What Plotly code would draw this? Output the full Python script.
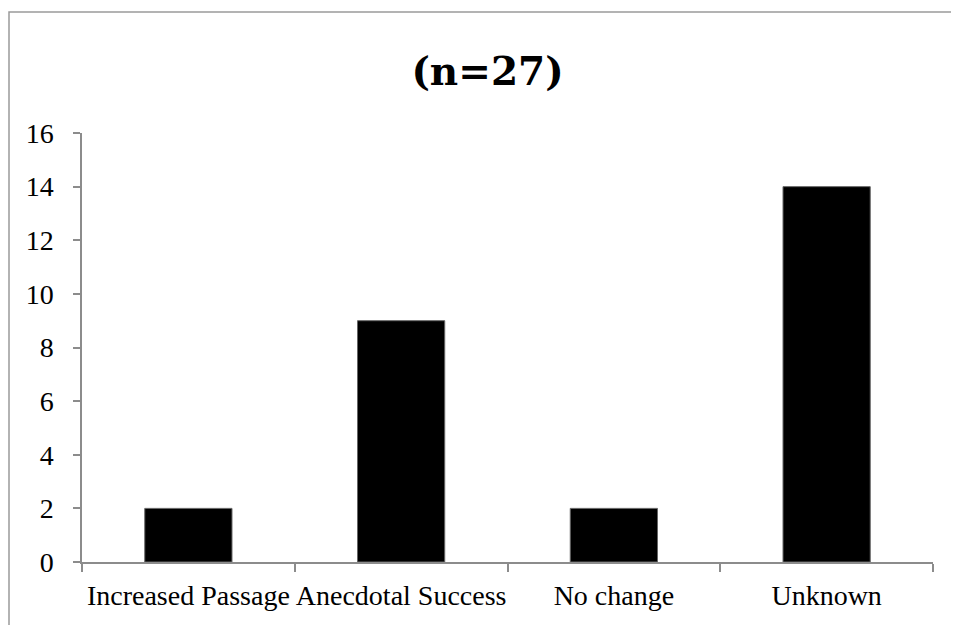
import plotly.graph_objects as go

categories = ["Increased Passage", "Anecdotal Success", "No change", "Unknown"]
values = [2, 9, 2, 14]
title_text = "(n=27)"

# page body has an 8px margin, so the figure starts at (8, 8) in the window
W, H = 951, 617
L, R, T, B = 74, 26, 125, 63
pw = W - L - R
ph = H - T - B

def px_x(px):
    return (px - L) / pw

def px_y(py):
    return (H - B - py) / ph

fig = go.Figure()
fig.add_trace(go.Bar(
    x=categories, y=values,
    marker=dict(color="black", line=dict(color="#666666", width=1)),
))

axis_color = "#8c8c8c"
fig.update_layout(
    width=W, height=H,
    margin=dict(l=L, r=R, t=T, b=B, autoexpand=False),
    paper_bgcolor="white", plot_bgcolor="white",
    bargap=0.59,
    showlegend=False,
    font=dict(family="Liberation Serif, serif", size=28, color="black"),
    title=dict(text="<b>" + title_text + "</b>", x=479.5 / W, xanchor="center",
               y=1 - 63 / H, yanchor="middle",
               font=dict(family="DejaVu Serif, serif", size=39, color="black")),
    xaxis=dict(showline=True, linecolor=axis_color, linewidth=1.5,
               ticks="outside", tickson="boundaries", ticklen=8, tickcolor=axis_color, tickwidth=1.5,
               tickangle=0, automargin=False, ticklabelstandoff=8,
               showgrid=False, tickfont=dict(size=28)),
    yaxis=dict(range=[0, 16], dtick=2, showline=True, linecolor=axis_color, linewidth=1.5,
               ticks="outside", ticklen=7, tickcolor=axis_color, tickwidth=1.5,
               ticklabelstandoff=14, automargin=False,
               showgrid=False, zeroline=False, tickfont=dict(size=28)),
    shapes=[dict(type="rect", xref="paper", yref="paper",
                 x0=px_x(1), x1=px_x(975), y0=px_y(640), y1=px_y(4),
                 line=dict(color="#9a9a9a", width=1.5), fillcolor="rgba(0,0,0,0)", layer="below")],
)

fig.write_html("out.html")
